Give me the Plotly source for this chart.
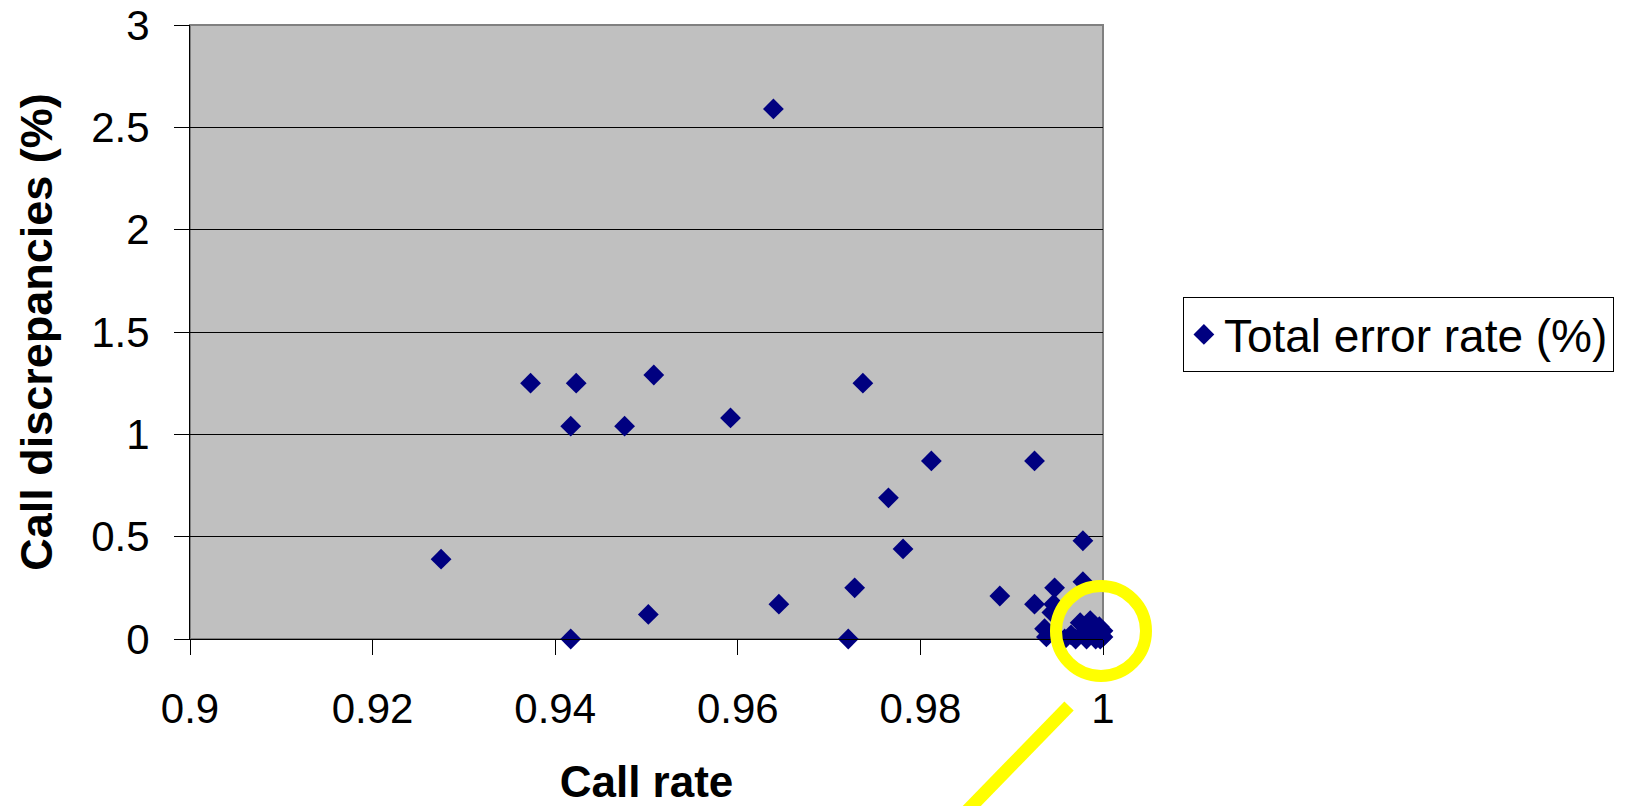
import plotly.graph_objects as go

# Call rate vs. call discrepancies per sample
call_rate = [
    0.9639, 0.9373, 0.9423, 0.9508, 0.9737, 0.9417, 0.9476, 0.9592,
    0.9812, 0.9925, 0.9765, 0.9781, 0.9275, 0.9978, 0.9728, 0.9645,
    0.9502, 0.9417, 0.9721, 0.9887, 0.9925, 0.9947, 0.9946, 0.9944,
    0.9936, 0.9938, 0.9978,
    0.9958, 0.9965, 0.9970, 0.9975, 0.9980, 0.9982, 0.9986, 0.9990,
    0.9992, 0.9996, 1.0000, 1.0000, 0.9997,
]
error_rate = [
    2.59, 1.25, 1.25, 1.29, 1.25, 1.04, 1.04, 1.08,
    0.87, 0.87, 0.69, 0.44, 0.39, 0.48, 0.25, 0.17,
    0.12, 0.00, 0.00, 0.21, 0.17, 0.25, 0.17, 0.13,
    0.05, 0.01, 0.28,
    0.00, 0.02, 0.00, 0.08, 0.03, 0.00, 0.09, 0.04,
    0.00, 0.06, 0.04, 0.01, 0.00,
]

x_ticks = [0.9, 0.92, 0.94, 0.96, 0.98, 1.0]
x_tick_text = ["0.9", "0.92", "0.94", "0.96", "0.98", "1"]
y_ticks = [0, 0.5, 1, 1.5, 2, 2.5, 3]
y_tick_text = ["0", "0.5", "1", "1.5", "2", "2.5", "3"]

FONT = "Arial, Liberation Sans, sans-serif"

fig = go.Figure()
fig.add_trace(go.Scatter(
    x=call_rate, y=error_rate, mode="markers",
    name="Total error rate (%)",
    marker=dict(symbol="diamond", size=16, color="#000080", line=dict(width=0)),
    cliponaxis=False,
))

fig.update_layout(
    width=1632, height=806,
    margin=dict(l=190, r=529, t=25, b=167, autoexpand=False),
    paper_bgcolor="white",
    plot_bgcolor="#C0C0C0",
    font=dict(family=FONT, color="black", size=42),
    showlegend=True,
    legend=dict(
        x=1.0875, y=0.557, xanchor="left", yanchor="top",
        bgcolor="white", bordercolor="black", borderwidth=1,
        font=dict(family=FONT, size=46, color="black"),
        itemwidth=30,
    ),
    xaxis=dict(
        range=[0.9, 1.0], tickvals=x_ticks, ticktext=x_tick_text,
        showgrid=False, zeroline=False, automargin=False,
        showline=True, linecolor="black", linewidth=1,
        ticks="outside", ticklen=15, tickcolor="black", tickwidth=1,
        ticklabelstandoff=18,
        tickfont=dict(size=42),
        title=dict(text="<b>Call rate</b>", font=dict(size=44), standoff=36),
    ),
    yaxis=dict(
        range=[0, 3], tickvals=y_ticks, ticktext=y_tick_text,
        showgrid=True, gridcolor="black", gridwidth=1, zeroline=False,
        automargin=False,
        showline=True, linecolor="black", linewidth=1,
        ticks="outside", ticklen=15, tickcolor="black", tickwidth=1,
        ticklabelstandoff=16,
        tickfont=dict(size=42),
        title=dict(text="<b>Call discrepancies (%)</b>", font=dict(size=45), standoff=24),
    ),
    shapes=[
        # grey frame around the plot area
        dict(type="rect", xref="paper", yref="paper", x0=0, x1=1, y0=0, y1=1,
             line=dict(color="#808080", width=2), layer="below"),
        # yellow highlight ring around the cluster near call rate 1
        dict(type="circle", xref="paper", yref="paper",
             x0=0.9485, x1=1.0471, y0=-0.0603, y1=0.0863,
             line=dict(color="#FFFF00", width=12), layer="above"),
        # yellow pointer line
        dict(type="line", xref="paper", yref="paper",
             x0=0.9628, y0=-0.1091, x1=0.8488, y1=-0.2834,
             line=dict(color="#FFFF00", width=13), layer="above"),
    ],
)

fig.write_html("out.html")
